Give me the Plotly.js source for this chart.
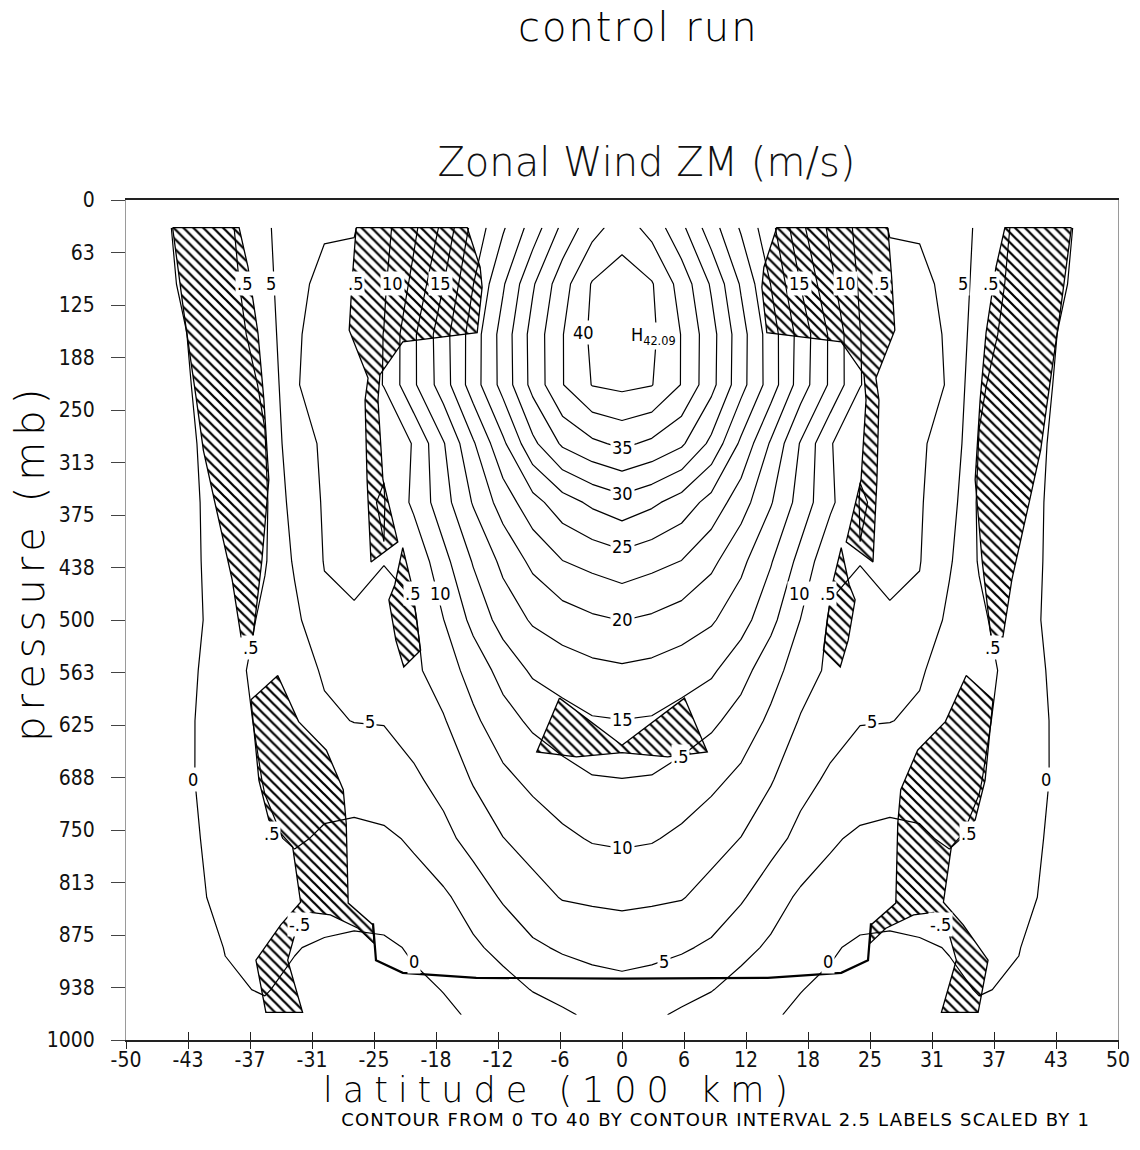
<!DOCTYPE html>
<html>
<head>
<meta charset="utf-8">
<script src="https://cdn.plot.ly/plotly-3.0.1.min.js"></script>
<style>
  html, body { margin: 0; padding: 0; background: #fff; }
  #chart { width: 1140px; height: 1150px; }
</style>
</head>
<body>
<div id="chart"></div>
<script>
// ---------------- data ----------------
// latitude grid (100 km) and pressure levels (mb)
const xLat = [-50,-44,-40,-36,-33,-30,-27,-24,-21,-18,-15,-12,-9,-6,-3,0,3,6,9,12,15,18,21,24,27,30,33,36,40,44,50];
const pLev = [33,100,160,220,290,360,430,500,560,620,690,760,830,890,940,970];

// zonal wind (m/s), one row per pressure level
const uZonal = [
  [-1.5,0.47,1.92,4.5,6.8,7.3,7.35,9.3,12.0,15.6,20.8,24.7,28.6,33.1,36.6,38.8,36.6,33.1,28.6,24.7,20.8,15.6,12.0,9.3,7.35,7.3,6.8,4.5,1.92,0.47,-1.5],
  [-1.5,0.27,1.62,4.1,7.0,8.0,8.2,9.7,13.1,17.45,22.45,27.2,32.2,36.5,40.2,41.3,40.2,36.5,32.2,27.2,22.45,17.45,13.1,9.7,8.2,8.0,7.0,4.1,1.62,0.27,-1.5],
  [-1.5,-0.05,1.37,3.5,7.3,8.1,8.3,10.05,14.6,19.0,23.7,28.5,33.4,37.4,40.5,42.0,40.5,37.4,33.4,28.5,23.7,19.0,14.6,10.05,8.3,8.1,7.3,3.5,1.37,-0.05,-1.5],
  [-1.5,-0.2,1.18,2.8,7.4,8.0,8.2,10.1,14.6,18.8,23.8,28.4,33.3,37.4,40.1,40.6,40.1,37.4,33.3,28.4,23.8,18.8,14.6,10.1,8.2,8.0,7.4,2.8,1.18,-0.2,-1.5],
  [-1.5,-0.4,0.99,2.4,6.9,7.7,7.7,7.7,10.2,14.8,19.7,24.5,29.4,32.9,34.5,35.5,34.5,32.9,29.4,24.5,19.7,14.8,10.2,7.7,7.7,7.7,6.9,2.4,0.99,-0.4,-1.5],
  [-1.5,-0.5,0.86,2.1,6.1,7.7,7.8,7.4,10.5,14.0,17.7,21.1,24.1,26.4,28.0,29.1,28.0,26.4,24.1,21.1,17.7,14.0,10.5,7.4,7.8,7.7,6.1,2.1,0.86,-0.5,-1.5],
  [-1.5,-0.5,0.77,2.3,5.3,7.6,7.7,7.55,8.1,11.7,15.2,18.1,20.6,22.45,23.25,24.0,23.25,22.45,20.6,18.1,15.2,11.7,8.1,7.55,7.7,7.6,5.3,2.3,0.77,-0.5,-1.5],
  [-1.5,-0.4,0.5,3.1,4.4,7.0,7.4,6.9,7.2,9.95,13.2,16.0,17.8,18.8,19.6,20.05,19.6,18.8,17.8,16.0,13.2,9.95,7.2,6.9,7.4,7.0,4.4,3.1,0.5,-0.4,-1.5],
  [-1.5,-0.8,1.7,3.2,4.2,5.2,6.2,6.6,7.0,8.7,11.0,13.4,15.4,16.2,16.8,17.1,16.8,16.2,15.4,13.4,11.0,8.7,7.0,6.6,6.2,5.2,4.2,3.2,1.7,-0.8,-1.5],
  [-1.5,-0.5,1.6,2.9,3.9,4.7,5.05,5.1,6.0,7.3,9.5,11.5,13.0,14.0,14.8,14.95,14.8,14.0,13.0,11.5,9.5,7.3,6.0,5.1,5.05,4.7,3.9,2.9,1.6,-0.5,-1.5],
  [-1.5,-0.4,1.3,2.6,3.0,3.1,3.4,3.9,4.6,5.8,7.7,9.4,10.6,11.5,12.3,12.45,12.3,11.5,10.6,9.4,7.7,5.8,4.6,3.9,3.4,3.1,3.0,2.6,1.3,-0.4,-1.5],
  [-1.5,-0.6,1.0,2.2,2.7,2.3,2.0,2.1,2.8,4.3,5.9,7.45,8.5,9.5,10.2,10.4,10.2,9.5,8.5,7.45,5.9,4.3,2.8,2.1,2.0,2.3,2.7,2.2,1.0,-0.6,-1.5],
  [-1.5,-0.8,0.7,1.7,1.6,1.2,1.0,1.2,1.6,2.1,3.6,5.3,6.6,7.65,7.9,8.1,7.9,7.65,6.6,5.3,3.6,2.1,1.6,1.2,1.0,1.2,1.6,1.7,0.7,-0.8,-1.5],
  [-1.5,-1.0,0.05,0.6,0.1,-0.3,-0.5,-0.4,0.25,1.2,2.1,3.2,4.6,5.3,5.7,5.9,5.7,5.3,4.6,3.2,2.1,1.2,0.25,-0.4,-0.5,-0.3,0.1,0.6,0.05,-1.0,-1.5],
  [-1.5,-1.2,-0.2,0.1,-0.4,-0.6,-0.7,-0.6,-0.4,0.05,0.7,1.6,2.6,3.4,4.0,4.3,4.0,3.4,2.6,1.6,0.7,0.05,-0.4,-0.6,-0.7,-0.6,-0.4,0.1,-0.2,-1.2,-1.5],
  [-1.5,-1.2,-0.4,-0.3,-0.6,-0.8,-0.9,-0.8,-0.6,-0.3,0.2,0.8,1.5,2.1,2.95,3.6,2.95,2.1,1.5,0.8,0.2,-0.3,-0.6,-0.8,-0.9,-0.8,-0.6,-0.3,-0.4,-1.2,-1.5]
];

// hatched regions (latitude, pressure outlines)
const bandLeftX  = [-45.3,-38.6,-37.7,-36.7,-36.1,-35.6,-36.3,-37.2,-38.4,-39.3,-41.1,-42.2,-42.9,-44.2];
const bandLeftP  = [33,33,80,158,238,333,429,520,520,452,357,298,238,131];
const bandRightX = [45.3,38.6,37.7,36.7,36.1,35.6,36.3,37.2,38.4,39.3,41.1,42.2,42.9,44.2];
const bandRightP = [33,33,80,158,238,333,429,520,520,452,357,298,238,131];

const topLeftX  = [-26.8,-15.6,-14.3,-14.1,-14.6,-22.1,-24.4,-24.6,-24.1,-23.1,-22.6,-25.3,-25.7,-25.9,-25.6,-27.5,-27.2];
const topLeftP  = [33,33,80,104,158,169,208,238,333,383,407,431,333,238,212,155,95];
const topRightX = [26.8,15.6,14.3,14.1,14.6,22.1,24.4,24.6,24.1,23.1,22.6,25.3,25.7,25.9,25.6,27.5,27.2];
const topRightP = [33,33,80,104,158,169,208,238,333,383,407,431,333,238,212,155,95];

const smallLeftX  = [-22.1,-21.2,-20.3,-22.0,-22.8,-23.5,-22.9];
const smallLeftP  = [414,458,536,556,524,476,458];
const smallRightX = [22.1,21.2,20.3,22.0,22.8,23.5,22.9];
const smallRightP = [414,458,536,556,524,476,458];

const lowLeftX  = [-34.7,-32.6,-29.8,-28.1,-27.8,-27.6,-25.1,-25.0,-26.6,-29.4,-31.4,-33.0,-33.7,-32.2,-35.9,-36.9,-34.4,-32.4,-33.2,-35.6,-36.6,-37.4];
const lowLeftP  = [566,621,655,702,742,837,863,885,867,851,848,875,905,967,967,905,863,836,770,738,691,595];
const lowRightX = [34.7,32.6,29.8,28.1,27.8,27.6,25.1,25.0,26.6,29.4,31.4,33.0,33.7,32.2,35.9,36.9,34.4,32.4,33.2,35.6,36.6,37.4];
const lowRightP = [566,621,655,702,742,837,863,885,867,851,848,875,905,967,967,905,863,836,770,738,691,595];

const centreX = [-6.3,0,6.3,8.6,4.6,0,-4.6,-8.6];
const centreP = [593,649,593,657,663,658,663,657];

// heavy line near the surface
const surfX = [-25.1,-24.8,-22.1,-14.7,0,14.7,22.1,24.8,25.1];
const surfP = [861,905,920,926,927,926,920,905,861];

// contour labels
const labText = ['40','H<sub>42.09</sub>','35','30','25','20','15','10','5','5','5','0','0',
  '.5','5','.5','10','15','15','10','.5','5','.5',
  '.5','10','10','.5','.5','.5','.5','.5','-.5','-.5','0','0','.5'];
const labX = [-3.9,3.2,0,0,0,0,0,0,4.2,-25.4,25.2,-21.0,20.8,
  -38.1,-35.4,-26.9,-23.1,-18.3,17.9,22.5,26.2,34.4,37.1,
  -21.1,-18.3,17.9,20.7,-37.4,37.3,-35.3,34.9,-32.5,32.1,-43.2,42.7,5.9];
const labP = [158,162,295,349,413,499,619,771,907,621,621,907,907,
  99,99,99,99,99,99,99,99,99,99,
  468,468,468,468,533,533,754,754,863,863,690,690,663];

// axes
const xTickVals = [-50,-43.75,-37.5,-31.25,-25,-18.75,-12.5,-6.25,0,6.25,12.5,18.75,25,31.25,37.5,43.75,50];
const xTickText = ['-50','-43','-37','-31','-25','-18','-12','-6','0','6','12','18','25','31','37','43','50'];
const yTickVals = [0,62.5,125,187.5,250,312.5,375,437.5,500,562.5,625,687.5,750,812.5,875,937.5,1000];
const yTickText = ['0','63','125','188','250','313','375','438','500','563','625','688','750','813','875','938','1000'];

// ---------------- drawing ----------------
const TXT = 'DejaVu Sans, sans-serif';
const NARROW = 'DejaVu Sans Condensed, DejaVu Sans, sans-serif';

const traces = [{
  type: 'contour', x: xLat, y: pLev, z: uZonal,
  autocontour: false,
  contours: {start: 0, end: 40, size: 2.5, coloring: 'lines', showlabels: false},
  colorscale: [[0, '#000'], [1, '#000']],
  showscale: false, line: {width: 1.2, smoothing: 0},
  hoverinfo: 'skip'
}];

const hatchSets = [
  [bandLeftX, bandLeftP], [bandRightX, bandRightP],
  [topLeftX, topLeftP], [topRightX, topRightP],
  [smallLeftX, smallLeftP], [smallRightX, smallRightP],
  [lowLeftX, lowLeftP], [lowRightX, lowRightP],
  [centreX, centreP]
];
hatchSets.forEach(([hx, hp]) => {
  traces.push({
    type: 'scatter', mode: 'lines',
    x: hx.concat([hx[0]]), y: hp.concat([hp[0]]),
    fill: 'toself', fillcolor: 'rgba(0,0,0,0)',
    fillpattern: {shape: '\\', size: 7, solidity: 0.32, fgcolor: '#000', fgopacity: 1, fillmode: 'overlay'},
    line: {color: '#000', width: 1.3},
    hoverinfo: 'skip', showlegend: false
  });
});

traces.push({
  type: 'scatter', mode: 'lines', x: surfX, y: surfP, xaxis: 'x2', yaxis: 'y',
  line: {color: '#000', width: 2.2}, hoverinfo: 'skip', showlegend: false
});

const annotations = labText.map((t, i) => ({
  x: labX[i], y: labP[i], xref: 'x', yref: 'y', text: t, showarrow: false,
  font: {family: NARROW, size: 18, color: '#000'},
  bgcolor: '#fff', borderpad: 1
}));

const bigAnn = [
  {text: 'control run', x: 0.517, y: 1.206, size: 40, spacing: '2px', weight: 300},
  {text: 'latitude (100 km)', x: 0.4375, y: -0.0595, size: 35, spacing: '10px', weight: 300},
  {text: 'CONTOUR FROM 0 TO 40 BY CONTOUR INTERVAL 2.5 LABELS SCALED BY 1', x: 0.594, y: -0.0945, size: 18, spacing: '1.2px', weight: 400},
  {text: 'pressure (mb)', x: -0.097, y: 0.569, size: 40, spacing: '6px', angle: -90, weight: 300}
];
const spacingByIndex = {};
bigAnn.forEach(a => {
  spacingByIndex[annotations.length] = a.spacing;
  annotations.push({
    text: a.text, x: a.x, y: a.y, xref: 'paper', yref: 'paper',
    xanchor: 'center', yanchor: 'middle', showarrow: false,
    textangle: a.angle || 0,
    font: {family: TXT, size: a.size, color: '#000', weight: a.weight}
  });
});

const tickFont = {family: NARROW, size: 21, color: '#111'};

const layout = {
  width: 1140, height: 1150,
  margin: {l: 126, r: 22, t: 200, b: 110},
  paper_bgcolor: '#fff', plot_bgcolor: '#fff',
  showlegend: false,
  title: {text: 'Zonal Wind ZM (m/s)', xref: 'container', yref: 'container',
          x: 0.567, y: 0.859, xanchor: 'center', yanchor: 'middle',
          font: {family: TXT, size: 40, color: '#111', weight: 300}},
  xaxis: {range: [-50, 50], tickmode: 'array', tickvals: xTickVals, ticktext: xTickText,
          ticks: 'inside', ticklen: 8, tickwidth: 1, tickcolor: '#222',
          showline: true, linecolor: '#222', linewidth: 2, mirror: true,
          showgrid: false, zeroline: false, tickfont: tickFont, ticklabelstandoff: 0},
  xaxis2: {range: [-50, 50], overlaying: 'x', anchor: 'y', side: 'bottom',
           tickmode: 'array', tickvals: xTickVals, ticks: 'outside', ticklen: 8, tickcolor: '#222',
           showticklabels: false, showline: false, showgrid: false, zeroline: false},
  yaxis: {range: [1000, 0], tickmode: 'array', tickvals: yTickVals, ticktext: yTickText,
          ticks: 'outside', ticklen: 14, tickwidth: 1, tickcolor: '#444',
          showline: true, linecolor: '#9a9a9a', linewidth: 1, mirror: true,
          showgrid: false, zeroline: false, tickfont: tickFont, ticklabelstandoff: 12},
  annotations: annotations
};

Plotly.newPlot('chart', traces, layout, {staticPlot: true}).then(gd => {
  gd.querySelectorAll('g.annotation').forEach(g => {
    const idx = +g.getAttribute('data-index');
    if (spacingByIndex[idx]) {
      const t = g.querySelector('text');
      if (t) t.style.letterSpacing = spacingByIndex[idx];
    }
  });
  // drop empty placeholder text nodes left by axes without titles
  gd.querySelectorAll('text').forEach(t => {
    if (!t.textContent.trim()) t.remove();
  });
});
</script>
</body>
</html>
